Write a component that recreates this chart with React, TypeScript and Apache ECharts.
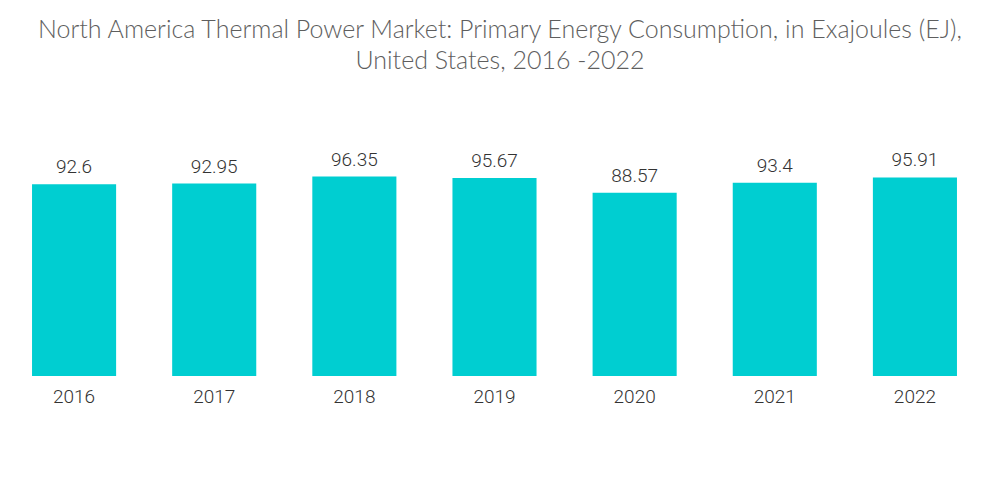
import React, { useEffect, useRef } from "react";
import * as echarts from "echarts";

const categories = ["2016", "2017", "2018", "2019", "2020", "2021", "2022"];
const values = [92.6, 92.95, 96.35, 95.67, 88.57, 93.4, 95.91];
const titleText =
  "North America Thermal Power Market: Primary Energy Consumption, in Exajoules (EJ),\nUnited States, 2016 -2022";

export default function App() {
  const ref = useRef<HTMLDivElement>(null);
  useEffect(() => {
    document.body.style.margin = "0";
    if (!ref.current) return;
    const chart = echarts.init(ref.current, undefined, { renderer: "svg" });
    chart.setOption({
      animation: false,
      title: {
        text: titleText,
        left: "center",
        top: 7,
        textStyle: {
          fontFamily: "Lato",
          fontSize: 25,
          fontWeight: 300,
          color: "#5e5e5e",
          lineHeight: 31,
        },
      },
      grid: { left: 4, right: 15, top: 169, bottom: 128, containLabel: false },
      xAxis: {
        type: "category",
        data: categories,
        axisLine: { show: false },
        axisTick: { show: false },
        axisLabel: {
          margin: 11,
          fontFamily: "Roboto",
          fontSize: 19,
          fontWeight: 300,
          color: "#333333",
        },
      },
      yAxis: {
        type: "value",
        min: 0,
        max: 100,
        show: false,
        splitLine: { show: false },
      },
      series: [
        {
          type: "bar",
          data: values,
          barWidth: "60%",
          itemStyle: { color: "#00CED1" },
          label: {
            show: true,
            position: "top",
            distance: 8,
            fontFamily: "Roboto",
            fontSize: 19,
            fontWeight: 300,
            color: "#333333",
          },
        },
      ],
    });
    return () => chart.dispose();
  }, []);
  return <div ref={ref} style={{ width: 1000, height: 504 }} />;
}
